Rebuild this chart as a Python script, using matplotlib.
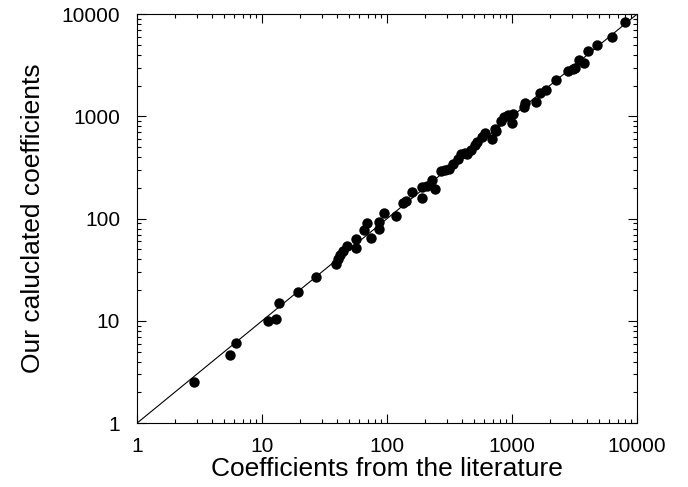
import matplotlib
matplotlib.use("Agg")
import matplotlib.pyplot as plt
from matplotlib.ticker import LogLocator, FuncFormatter, NullFormatter

plt.rcParams['font.family'] = ['Liberation Sans', 'DejaVu Sans']

# literature value vs our calculated value
lit = [2.87, 5.56, 6.18, 11.1, 13.0, 13.6, 19.4, 26.9, 39.4, 40.4,
       42.1, 44.6, 48.3, 56.0, 56.9, 64.9, 68.7, 74.5, 85.7, 86.3,
       95.3, 117, 134, 141, 159, 189, 191, 207, 230, 242,
       269, 292, 311, 338, 367, 388, 421, 439, 468, 508,
       529, 574, 613, 687, 733, 751, 815, 863, 922, 1000,
       1016, 1247, 1268, 1553, 1686, 1875, 2244, 2821, 3060, 3190,
       3460, 3752, 4074, 4796, 6280, 7960]
calc = [2.54, 4.67, 6.1, 10.05, 10.4, 14.9, 19.2, 26.9, 35.7, 40.5,
        44.6, 48.0, 54.5, 51.7, 63.2, 78.0, 90.4, 64.7, 79.1, 92.5,
        113, 107, 141, 149, 184, 160, 205, 208, 238, 196,
        293, 302, 309, 345, 386, 432, 442, 425, 472, 520,
        561, 627, 685, 604, 755, 716, 910, 980, 1040, 869,
        1055, 1225, 1340, 1370, 1675, 1804, 2271, 2780, 2927, 2994,
        3524, 3350, 4406, 5039, 5937, 8300]
limits = [1, 10000]

fig = plt.figure(figsize=(6.88, 4.87), dpi=100)
ax = fig.add_axes([0.199, 0.131, 0.727, 0.840])

ax.plot(limits, limits, color='black', linewidth=0.8)
ax.plot(lit, calc, 'o', color='black', markersize=7.5, markeredgewidth=0)

ax.set_xscale('log')
ax.set_yscale('log')
ax.set_xlim(limits)
ax.set_ylim(limits)

for axis in (ax.xaxis, ax.yaxis):
    axis.set_major_locator(LogLocator(base=10))
    axis.set_minor_locator(LogLocator(base=10, subs=range(2, 10)))
    axis.set_major_formatter(FuncFormatter(lambda v, p: f"{int(round(v))}"))
    axis.set_minor_formatter(NullFormatter())

ax.tick_params(which='both', direction='in', top=True, right=True, labelsize=15, width=0.8)
ax.tick_params(which='major', length=6.5)
ax.tick_params(which='minor', length=3)
ax.tick_params(axis='x', which='major', pad=10)
ax.tick_params(axis='y', which='major', pad=12)
for s in ax.spines.values():
    s.set_linewidth(0.8)

ax.set_xlabel("Coefficients from the literature", fontsize=19, labelpad=1)
ax.set_ylabel("Our caluclated coefficients", fontsize=19, labelpad=12)

fig.savefig("out.png", dpi=100)
